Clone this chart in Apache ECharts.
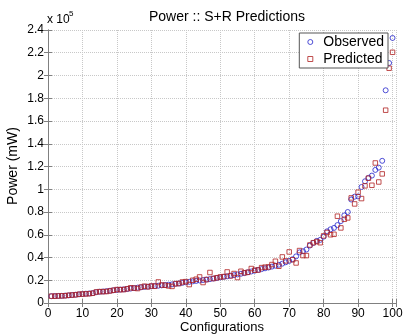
<!DOCTYPE html>
<html>
<head>
<meta charset="utf-8">
<script src="https://cdn.jsdelivr.net/npm/echarts@6/dist/echarts.min.js"></script>
<style>
  html, body { margin: 0; padding: 0; background: #fff; }
  #chart { width: 406px; height: 336px; }
</style>
</head>
<body>
<div id="chart"></div>
<script>
  // power values in units of 10^5 mW, one per configuration (1..100)
  var observed = [
    0.060, 0.061, 0.062, 0.063, 0.065, 0.067, 0.070, 0.073, 0.076, 0.079,
    0.082, 0.084, 0.087, 0.095, 0.099, 0.101, 0.104, 0.108, 0.112, 0.115,
    0.118, 0.120, 0.123, 0.127, 0.131, 0.135, 0.138, 0.141, 0.144, 0.147,
    0.150, 0.152, 0.155, 0.158, 0.161, 0.164, 0.168, 0.172, 0.177, 0.182,
    0.186, 0.190, 0.194, 0.198, 0.202, 0.206, 0.210, 0.215, 0.220, 0.225,
    0.230, 0.235, 0.240, 0.245, 0.251, 0.257, 0.263, 0.270, 0.277, 0.284,
    0.291, 0.298, 0.305, 0.312, 0.320, 0.328, 0.336, 0.346, 0.358, 0.370,
    0.385, 0.410, 0.445, 0.455, 0.470, 0.505, 0.528, 0.546, 0.555, 0.583,
    0.630, 0.648, 0.660, 0.685, 0.720, 0.770, 0.800, 0.910, 0.935, 0.937,
    1.020, 1.070, 1.100, 1.120, 1.170, 1.190, 1.250, 1.870, 2.110, 2.330
  ];
  var predicted = [
    0.060, 0.060, 0.062, 0.063, 0.064, 0.068, 0.070, 0.072, 0.077, 0.079,
    0.080, 0.082, 0.086, 0.097, 0.100, 0.100, 0.101, 0.106, 0.112, 0.118,
    0.117, 0.118, 0.125, 0.134, 0.131, 0.127, 0.140, 0.148, 0.142, 0.150,
    0.147, 0.185, 0.158, 0.156, 0.150, 0.146, 0.170, 0.171, 0.185, 0.188,
    0.162, 0.200, 0.209, 0.229, 0.180, 0.206, 0.268, 0.215, 0.222, 0.229,
    0.232, 0.273, 0.238, 0.259, 0.224, 0.279, 0.265, 0.270, 0.303, 0.288,
    0.290, 0.311, 0.315, 0.317, 0.338, 0.367, 0.323, 0.405, 0.370, 0.449,
    0.380, 0.352, 0.461, 0.417, 0.417, 0.510, 0.530, 0.540, 0.530, 0.590,
    0.620, 0.600, 0.604, 0.763, 0.660, 0.736, 0.748, 0.924, 0.871, 0.974,
    0.918, 1.030, 1.097, 1.035, 1.231, 1.064, 1.135, 1.695, 2.064, 2.204
  ];
  var configs = observed.map(function (v, i) { return i + 1; });

  var blue = '#2626cc';
  var red = '#b02222';
  var font = 'Liberation Sans, Arial, sans-serif';

  function pairs(vals) {
    return vals.map(function (v, i) { return [configs[i], v]; });
  }

  var axisGray = '#808080';
  var gridLine = { show: true, lineStyle: { color: '#c8c8c8', type: 'dotted', width: 1 } };

  var chart = echarts.init(document.getElementById('chart'));
  chart.setOption({
    backgroundColor: '#fff',
    animation: false,
    title: {
      text: 'Power :: S+R Predictions',
      left: 222, top: 5, textAlign: 'center',
      textStyle: { fontFamily: font, fontSize: 14, fontWeight: 'normal', color: '#000' }
    },
    legend: {
      right: 18, top: 33,
      orient: 'vertical',
      backgroundColor: '#fff',
      borderColor: '#555', borderWidth: 1,
      padding: [2, 4, 2, 8],
      itemGap: 3,
      itemWidth: 16, itemHeight: 5,
      textStyle: { fontFamily: font, fontSize: 14, color: '#000' },
      data: [
        { name: 'Observed', icon: 'circle',
          itemStyle: { color: 'rgba(0,0,0,0)', borderColor: blue, borderWidth: 1 } },
        { name: 'Predicted', icon: 'path://M0,0H10V10H0Z',
          itemStyle: { color: 'rgba(0,0,0,0)', borderColor: red, borderWidth: 1 } }
      ]
    },
    graphic: [
      { type: 'text', left: 47, top: 14,
        style: { text: 'x 10', fontFamily: font, fontSize: 12, fill: '#000' } },
      { type: 'text', left: 69, top: 10,
        style: { text: '5', fontFamily: font, fontSize: 8, fill: '#000' } },
      // axis names placed by hand
      { type: 'text', x: 222, y: 327,
        style: { text: 'Configurations', fontFamily: font, fontSize: 13, fill: '#000',
                 align: 'center', verticalAlign: 'middle' } },
      { type: 'text', x: 13, y: 166, rotation: Math.PI / 2,
        style: { text: 'Power (mW)', fontFamily: font, fontSize: 14, fill: '#000',
                 align: 'center', verticalAlign: 'middle' } }
    ],
    grid: { left: 48, right: 10, top: 30, bottom: 33, outerBoundsMode: 'none' },
    xAxis: [{
      type: 'value', min: 0, max: 101, interval: 10, position: 'bottom',
      axisLine: { lineStyle: { color: axisGray } },
      axisTick: { inside: true, length: 4, lineStyle: { color: axisGray } },
      axisLabel: {
        fontFamily: font, fontSize: 12, color: '#000', margin: 5,
        formatter: function (v) { return v % 10 === 0 ? String(v) : ''; }
      },
      splitLine: gridLine
    }, {
      type: 'value', min: 0, max: 101, interval: 10, position: 'top',
      axisLine: { lineStyle: { color: axisGray } },
      axisTick: { inside: true, length: 4, lineStyle: { color: axisGray } },
      axisLabel: { show: false },
      splitLine: { show: false }
    }],
    yAxis: [{
      type: 'value', min: 0, max: 2.4, interval: 0.2, position: 'left',
      axisLine: { show: true, lineStyle: { color: axisGray } },
      axisTick: { show: true, inside: true, length: 4, lineStyle: { color: axisGray } },
      axisLabel: {
        fontFamily: font, fontSize: 12, color: '#000', margin: 4,
        formatter: function (v) { return String(parseFloat(v.toFixed(1))); }
      },
      splitLine: gridLine
    }, {
      type: 'value', min: 0, max: 2.4, interval: 0.2, position: 'right',
      axisLine: { show: true, lineStyle: { color: axisGray } },
      axisTick: { show: true, inside: true, length: 4, lineStyle: { color: axisGray } },
      axisLabel: { show: false },
      splitLine: { show: false }
    }],
    series: [{
      name: 'Observed', type: 'scatter', symbol: 'circle', symbolSize: 5,
      xAxisIndex: 0, yAxisIndex: 0,
      itemStyle: { color: 'rgba(0,0,0,0)', borderColor: blue, borderWidth: 1 },
      data: pairs(observed)
    }, {
      name: 'Predicted', type: 'scatter', symbol: 'rect', symbolSize: 4.5,
      xAxisIndex: 0, yAxisIndex: 0,
      itemStyle: { color: 'rgba(0,0,0,0)', borderColor: red, borderWidth: 1 },
      data: pairs(predicted)
    }]
  });
</script>
</body>
</html>
